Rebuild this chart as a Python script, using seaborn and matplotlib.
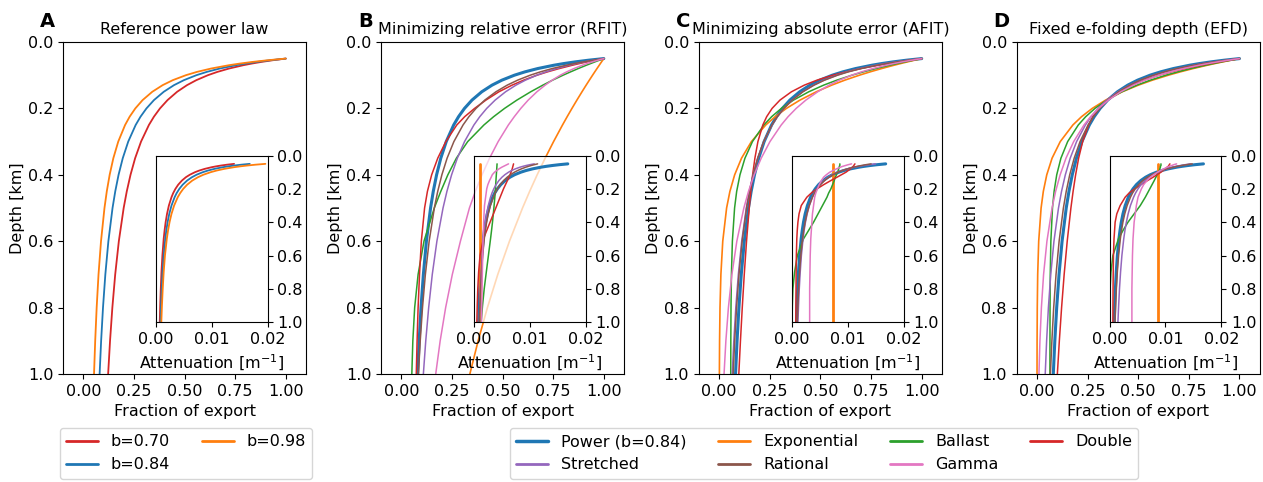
import matplotlib
matplotlib.use("Agg")
from matplotlib import pyplot as plt
from matplotlib.lines import Line2D
import seaborn as sns

# depth grid shared by every curve [km]
depth = [0.05, 0.055, 0.06, 0.065, 0.07, 0.08, 0.09, 0.1, 0.115, 0.13, 0.15, 0.175, 0.2,
         0.225, 0.25, 0.3, 0.35, 0.4, 0.45, 0.5, 0.6, 0.7, 0.8, 0.9, 1.0]

# panel A: reference power laws (fraction of export, attenuation in m^-1)
frac_b070 = [1, 0.9355, 0.8802, 0.8322, 0.7902, 0.7196, 0.6627, 0.6156, 0.5582, 0.5123, 0.4634, 0.4161, 0.3789,
             0.3489, 0.3241, 0.2853, 0.2561, 0.2333, 0.2148, 0.1995, 0.1756, 0.1577, 0.1436, 0.1322, 0.1228]
frac_b084 = [1, 0.9231, 0.8580, 0.8022, 0.7538, 0.6738, 0.6104, 0.5587, 0.4968, 0.4481, 0.3974, 0.3491, 0.3121,
             0.2827, 0.2587, 0.2220, 0.1950, 0.1743, 0.1579, 0.1445, 0.1240, 0.1090, 0.0974, 0.0882, 0.0807]
frac_b098 = [1, 0.9108, 0.8364, 0.7733, 0.7191, 0.6309, 0.5621, 0.5070, 0.4421, 0.3920, 0.3407, 0.2930, 0.2571,
             0.2290, 0.2065, 0.1727, 0.1485, 0.1303, 0.1161, 0.1047, 0.0876, 0.0753, 0.0661, 0.0589, 0.0531]
att_b070 = [0.01400, 0.01273, 0.01167, 0.01077, 0.01000, 0.00875, 0.00778, 0.00700, 0.00609, 0.00538, 0.00467,
            0.00400, 0.00350, 0.00311, 0.00280, 0.00233, 0.00200, 0.00175, 0.00156, 0.00140, 0.00117, 0.00100,
            0.00088, 0.00078, 0.00070]
att_b084 = [0.01680, 0.01527, 0.01400, 0.01292, 0.01200, 0.01050, 0.00933, 0.00840, 0.00730, 0.00646, 0.00560,
            0.00480, 0.00420, 0.00373, 0.00336, 0.00280, 0.00240, 0.00210, 0.00187, 0.00168, 0.00140, 0.00120,
            0.00105, 0.00093, 0.00084]
att_b098 = [0.01960, 0.01782, 0.01633, 0.01508, 0.01400, 0.01225, 0.01089, 0.00980, 0.00852, 0.00754, 0.00653,
            0.00560, 0.00490, 0.00436, 0.00392, 0.00327, 0.00280, 0.00245, 0.00218, 0.00196, 0.00163, 0.00140,
            0.00123, 0.00109, 0.00098]

# panel B: minimizing relative error
rfit_exp = [1, 0.9943, 0.9887, 0.9830, 0.9775, 0.9664, 0.9554, 0.9446, 0.9286, 0.9128, 0.8923, 0.8672, 0.8428,
            0.8191, 0.7961, 0.7520, 0.7103, 0.6710, 0.6338, 0.5987, 0.5342, 0.4766, 0.4253, 0.3795, 0.3386]
rfit_ballast = [1, 0.978, 0.956, 0.935, 0.914, 0.874, 0.836, 0.799, 0.747, 0.699, 0.639, 0.571, 0.510,
                0.456, 0.408, 0.328, 0.272, 0.230, 0.195, 0.163, 0.112, 0.083, 0.066, 0.057, 0.052]
rfit_double = [1, 0.958, 0.918, 0.880, 0.845, 0.780, 0.722, 0.670, 0.604, 0.547, 0.482, 0.418, 0.362,
               0.313, 0.274, 0.220, 0.180, 0.150, 0.129, 0.115, 0.099, 0.090, 0.083, 0.078, 0.074]
rfit_stretched = [1, 0.9493, 0.9046, 0.8645, 0.8285, 0.7664, 0.7139, 0.6693, 0.6129, 0.5663, 0.5149, 0.4635, 0.4219,
                  0.3876, 0.3586, 0.3123, 0.2767, 0.2484, 0.2253, 0.2061, 0.1758, 0.1530, 0.1352, 0.1208, 0.1090]
rfit_rational = [1, 0.9461, 0.8977, 0.8540, 0.8143, 0.7452, 0.6868, 0.6369, 0.5744, 0.5230, 0.4673, 0.4124, 0.3690,
                 0.3339, 0.3049, 0.2597, 0.2262, 0.2004, 0.1799, 0.1631, 0.1376, 0.1189, 0.1047, 0.0935, 0.0845]
rfit_gamma = [1, 0.9702, 0.9427, 0.9174, 0.8941, 0.8526, 0.8167, 0.7855, 0.7453, 0.7103, 0.6697, 0.6267, 0.5902,
              0.5580, 0.5287, 0.4784, 0.4359, 0.3987, 0.3658, 0.3364, 0.292, 0.252, 0.219, 0.192, 0.170]
rfit_att_exp = 0.00114
rfit_att_ballast = [0.00415, 0.00414, 0.00413, 0.00412, 0.00411, 0.00409, 0.00407, 0.00405, 0.00402, 0.00399,
                    0.00395, 0.0039, 0.00385, 0.0038, 0.00375, 0.00362, 0.00348, 0.00333, 0.00316, 0.00298,
                    0.00260, 0.00222, 0.00185, 0.00155, 0.0013]
rfit_att_double = [0.0071, 0.00706, 0.00702, 0.00698, 0.00694, 0.00686, 0.00676, 0.00665, 0.00647, 0.00628,
                   0.0060, 0.00565, 0.0053, 0.0050, 0.0047, 0.0041, 0.0035, 0.0029, 0.0023, 0.0017, 0.0011,
                   0.00085, 0.0007, 0.0006, 0.00053]
rfit_att_stretched = [0.01080, 0.01001, 0.00933, 0.00876, 0.00825, 0.00742, 0.00675, 0.00620, 0.00555, 0.00503,
                      0.00448, 0.00396, 0.00356, 0.00324, 0.00298, 0.00258, 0.00228, 0.00205, 0.00186, 0.00171,
                      0.00148, 0.00131, 0.00118, 0.00107, 0.00098]
rfit_att_rational = [0.01140, 0.01079, 0.01023, 0.00974, 0.00928, 0.00850, 0.00783, 0.00726, 0.00655, 0.00596,
                     0.00533, 0.00470, 0.00421, 0.00381, 0.00348, 0.00296, 0.00258, 0.00228, 0.00205, 0.00186,
                     0.00157, 0.00136, 0.00119, 0.00107, 0.00096]
rfit_att_gamma = [0.0062, 0.0059, 0.0056, 0.0053, 0.0050, 0.0045, 0.0041, 0.0037, 0.0033, 0.0031, 0.0028, 0.0025,
                  0.0023, 0.0022, 0.0021, 0.0019, 0.00182, 0.00175, 0.0017, 0.00165, 0.00158, 0.00152, 0.00147,
                  0.00141, 0.00136]

# panel C: minimizing absolute error
afit_exp = [1, 0.9639, 0.9291, 0.8956, 0.8633, 0.8021, 0.7453, 0.6925, 0.6202, 0.5554, 0.4795, 0.3990, 0.3320,
            0.2763, 0.2299, 0.1592, 0.1103, 0.0764, 0.0529, 0.0366, 0.0176, 0.0084, 0.0040, 0.0019, 0.0009]
afit_ballast = [1, 0.9579, 0.9176, 0.8792, 0.8426, 0.7743, 0.7123, 0.6558, 0.5808, 0.5159, 0.4423, 0.3671, 0.3070,
                0.2590, 0.2205, 0.1642, 0.1272, 0.1026, 0.0863, 0.0760, 0.0651, 0.0604, 0.0583, 0.0574, 0.0570]
afit_double = [1, 0.9407, 0.8854, 0.8337, 0.7858, 0.6999, 0.6258, 0.5619, 0.4828, 0.4203, 0.3567, 0.3002, 0.2613,
               0.2344, 0.2155, 0.1912, 0.1763, 0.1651, 0.1560, 0.1483, 0.1350, 0.1238, 0.1139, 0.1050, 0.0969]
afit_stretched = [1, 0.9306, 0.8708, 0.8186, 0.7725, 0.6952, 0.6325, 0.5804, 0.5170, 0.4663, 0.4123, 0.3606, 0.3202,
                  0.2878, 0.2613, 0.2204, 0.1902, 0.1671, 0.1487, 0.1338, 0.1111, 0.0946, 0.0820, 0.0722, 0.0643]
afit_rational = [1, 0.9337, 0.8757, 0.8244, 0.7788, 0.7013, 0.6378, 0.5848, 0.5200, 0.4682, 0.4132, 0.3604, 0.3195,
                 0.2869, 0.2604, 0.2198, 0.1901, 0.1675, 0.1497, 0.1353, 0.1135, 0.0978, 0.0858, 0.0765, 0.0690]
afit_gamma = [1, 0.9493, 0.9037, 0.8624, 0.8249, 0.7588, 0.7026, 0.6544, 0.5936, 0.5429, 0.4864, 0.4281, 0.3802,
              0.3402, 0.3063, 0.2508, 0.2074, 0.1727, 0.1447, 0.1218, 0.0871, 0.0628, 0.0455, 0.0330, 0.0240]
afit_att_exp = 0.00735
afit_att_ballast = [0.0086, 0.0086, 0.0086, 0.0085, 0.0085, 0.0084, 0.0083, 0.0082, 0.0080, 0.0078, 0.0076, 0.0073,
                    0.0070, 0.0066, 0.0063, 0.0055, 0.0047, 0.0039, 0.0030, 0.0021, 0.0010, 0.0005, 0.0002, 0.0001,
                    0.00006]
afit_att_double = [0.0113, 0.0112, 0.0111, 0.0110, 0.0108, 0.0105, 0.0101, 0.0097, 0.0089, 0.0081, 0.0070, 0.0057,
                   0.0045, 0.0035, 0.0027, 0.0017, 0.0013, 0.0011, 0.00098, 0.0009, 0.00082, 0.00078, 0.00076,
                   0.00074, 0.00072]
afit_att_stretched = [0.01500, 0.01381, 0.01280, 0.01194, 0.01119, 0.00996, 0.00899, 0.00820, 0.00726, 0.00653,
                      0.00576, 0.00504, 0.00449, 0.00405, 0.00369, 0.00315, 0.00275, 0.00245, 0.00221, 0.00202,
                      0.00172, 0.00151, 0.00134, 0.00121, 0.00110]
afit_att_rational = [0.01420, 0.01326, 0.01244, 0.01171, 0.01106, 0.00996, 0.00906, 0.00830, 0.00738, 0.00665,
                     0.00587, 0.00512, 0.00454, 0.00407, 0.00370, 0.00312, 0.00270, 0.00238, 0.00213, 0.00192,
                     0.00161, 0.00139, 0.00122, 0.00109, 0.00098]
afit_att_gamma = [0.0107, 0.0101, 0.0096, 0.0091, 0.0087, 0.0080, 0.0074, 0.0068, 0.0062, 0.0057, 0.0053, 0.0049,
                  0.0046, 0.0043, 0.0041, 0.0039, 0.0037, 0.0036, 0.0035, 0.0034, 0.0033, 0.00325, 0.0032, 0.0032,
                  0.0032]

# panel D: fixed e-folding depth
efd_exp = [1, 0.9577, 0.9171, 0.8783, 0.8411, 0.7714, 0.7075, 0.6489, 0.5699, 0.5006, 0.4211, 0.3392, 0.2732,
           0.2201, 0.1773, 0.1150, 0.0746, 0.0484, 0.0314, 0.0204, 0.0086, 0.0036, 0.0015, 0.0006, 0.0003]
efd_ballast = [1, 0.9550, 0.9121, 0.8713, 0.8325, 0.7605, 0.6954, 0.6368, 0.5597, 0.4935, 0.4193, 0.3450, 0.2867,
               0.2407, 0.2041, 0.1516, 0.1183, 0.0976, 0.0846, 0.0766, 0.0686, 0.0657, 0.0646, 0.0642, 0.0640]
efd_double = [1, 0.9477, 0.8985, 0.8523, 0.8091, 0.7310, 0.6628, 0.6033, 0.5283, 0.4675, 0.4040, 0.3460, 0.3050,
              0.2760, 0.2550, 0.2257, 0.2057, 0.1909, 0.1784, 0.1676, 0.1494, 0.1343, 0.1216, 0.1105, 0.1007]
efd_stretched = [1, 0.9323, 0.8732, 0.8212, 0.7749, 0.6963, 0.6317, 0.5776, 0.5111, 0.4576, 0.4004, 0.3449, 0.3018,
                 0.2673, 0.2391, 0.1957, 0.1641, 0.1401, 0.1213, 0.1063, 0.0839, 0.0681, 0.0565, 0.0477, 0.0408]
efd_rational = [1, 0.9311, 0.8711, 0.8183, 0.7716, 0.6925, 0.6281, 0.5747, 0.5097, 0.4579, 0.4032, 0.3509, 0.3106,
                0.2786, 0.2525, 0.2128, 0.1838, 0.1618, 0.1445, 0.1305, 0.1094, 0.0942, 0.0826, 0.0737, 0.0664]
efd_gamma = [1, 0.9429, 0.8911, 0.8438, 0.8007, 0.7245, 0.6595, 0.6036, 0.5334, 0.4759, 0.4138, 0.3526, 0.3042,
             0.2648, 0.2322, 0.1813, 0.1433, 0.1145, 0.0921, 0.0745, 0.0492, 0.0327, 0.0219, 0.0147, 0.0098]
efd_att_exp = 0.00865
efd_att_ballast = [0.0092, 0.0092, 0.0092, 0.0091, 0.0091, 0.0090, 0.0089, 0.0087, 0.0085, 0.0083, 0.0080, 0.0076,
                   0.0072, 0.0068, 0.0064, 0.0055, 0.0044, 0.0033, 0.0024, 0.0016, 0.0006, 0.00025, 0.0001,
                   0.00004, 0.00002]
efd_att_double = [0.0108, 0.0107, 0.0106, 0.0105, 0.0103, 0.0100, 0.0096, 0.0092, 0.0085, 0.0078, 0.0068, 0.0056,
                  0.0045, 0.0035, 0.0028, 0.0019, 0.0013, 0.0010, 0.0009, 0.0008, 0.0007, 0.00066, 0.00063,
                  0.00061, 0.0006]
efd_att_stretched = [0.01455, 0.01354, 0.01267, 0.01193, 0.01127, 0.01019, 0.00932, 0.00860, 0.00774, 0.00705,
                     0.00633, 0.00563, 0.00509, 0.00465, 0.00430, 0.00374, 0.00333, 0.00301, 0.00275, 0.00254,
                     0.00221, 0.00197, 0.00178, 0.00163, 0.00150]
efd_att_rational = [0.01480, 0.01378, 0.01289, 0.01211, 0.01142, 0.01025, 0.00930, 0.00851, 0.00754, 0.00678,
                    0.00597, 0.00519, 0.00460, 0.00412, 0.00374, 0.00315, 0.00272, 0.00239, 0.00214, 0.00193,
                    0.00162, 0.00139, 0.00122, 0.00109, 0.00098]
efd_att_gamma = [0.0120, 0.0115, 0.0111, 0.0107, 0.0103, 0.0097, 0.0091, 0.0086, 0.0079, 0.0073, 0.0067, 0.0061,
                 0.0057, 0.0054, 0.0051, 0.0048, 0.0046, 0.0044, 0.0043, 0.0042, 0.0041, 0.00405, 0.0040, 0.0040,
                 0.0040]

titles = ["Reference power law", "Minimizing relative error (RFIT)",
          "Minimizing absolute error (AFIT)", "Fixed e-folding depth (EFD)"]
letters = ["A", "B", "C", "D"]

colors = {"Power (b=0.84)": "#1f77b4", "Exponential": "#ff7f0e", "Ballast": "#2ca02c",
          "Double": "#d62728", "Stretched": "#9467bd", "Rational": "#8c564b", "Gamma": "#e377c2",
          "b=0.70": "#d62728", "b=0.84": "#1f77b4", "b=0.98": "#ff7f0e"}

sns.set_style("ticks", {"axes.edgecolor": "black", "text.color": "black",
                        "xtick.color": "black", "ytick.color": "black",
                        "axes.labelcolor": "black"})
plt.rcParams["font.family"] = "DejaVu Sans"
plt.rcParams["font.size"] = 11.5

fig = plt.figure(figsize=(12.63, 4.82), dpi=100)
lefts = [0.0499, 0.3017, 0.5534, 0.805]
axes = [fig.add_axes([l, 0.2241, 0.1924, 0.6888]) for l in lefts]


def line(ax, x, name, lw):
    sns.lineplot(x=x, y=depth, orient="y", sort=False, estimator=None,
                 color=colors[name], lw=lw, ax=ax, legend=False)


def setup(ax, i):
    ax.set_xlim(-0.1, 1.1)
    ax.set_ylim(1.0, 0.0)
    ax.set_xticks([0, 0.25, 0.5, 0.75, 1.0])
    ax.set_yticks([0, 0.2, 0.4, 0.6, 0.8, 1.0])
    ax.set_title(titles[i], fontsize=11.5)
    ax.text(-0.095, 1.045, letters[i], transform=ax.transAxes, fontsize=14,
            fontweight="bold", ha="left", va="baseline")
    ins = ax.inset_axes([0.382, 0.156, 0.46, 0.502])
    ins.set_facecolor((1, 1, 1, 0.7))
    ins.set_xlim(0, 0.02)
    ins.set_ylim(1.0, 0.0)
    ins.set_xticks([0, 0.01, 0.02])
    ins.set_yticks([0, 0.2, 0.4, 0.6, 0.8, 1.0])
    ins.yaxis.tick_right()
    return ins


def finish(ax, ins):
    ax.set_xlabel("Fraction of export")
    ax.set_ylabel("Depth [km]", labelpad=2)
    ins.set_xlabel("Attenuation [m$^{-1}$]")
    ins.set_ylabel("")


# panel A
ins = setup(axes[0], 0)
for name, f, a in [("b=0.70", frac_b070, att_b070), ("b=0.84", frac_b084, att_b084),
                   ("b=0.98", frac_b098, att_b098)]:
    line(axes[0], f, name, 1.3)
    line(ins, a, name, 1.3)
finish(axes[0], ins)

# panels B-D
fits = [
    (rfit_exp, rfit_att_exp, [("Ballast", rfit_ballast, rfit_att_ballast), ("Double", rfit_double, rfit_att_double),
                              ("Stretched", rfit_stretched, rfit_att_stretched),
                              ("Rational", rfit_rational, rfit_att_rational), ("Gamma", rfit_gamma, rfit_att_gamma)]),
    (afit_exp, afit_att_exp, [("Ballast", afit_ballast, afit_att_ballast), ("Double", afit_double, afit_att_double),
                              ("Stretched", afit_stretched, afit_att_stretched),
                              ("Rational", afit_rational, afit_att_rational), ("Gamma", afit_gamma, afit_att_gamma)]),
    (efd_exp, efd_att_exp, [("Ballast", efd_ballast, efd_att_ballast), ("Double", efd_double, efd_att_double),
                            ("Stretched", efd_stretched, efd_att_stretched),
                            ("Rational", efd_rational, efd_att_rational), ("Gamma", efd_gamma, efd_att_gamma)]),
]
for k, (fexp, aexp, others) in enumerate(fits):
    ax = axes[k + 1]
    ins = setup(ax, k + 1)
    line(ax, frac_b084, "Power (b=0.84)", 2.2)
    line(ins, att_b084, "Power (b=0.84)", 2.2)
    line(ax, fexp, "Exponential", 1.2)
    sns.lineplot(x=[aexp, aexp], y=[depth[0], depth[-1]], orient="y", sort=False,
                 estimator=None, color=colors["Exponential"], lw=2.0, ax=ins, legend=False)
    for name, f, a in others:
        line(ax, f, name, 1.1)
        line(ins, a, name, 1.1)
    finish(ax, ins)

h_a = [Line2D([], [], color=colors[n], lw=2) for n in ["b=0.70", "b=0.84", "b=0.98"]]
fig.legend(h_a, ["b=0.70", "b=0.84", "b=0.98"], loc="upper center",
           bbox_to_anchor=(0.1473, 0.112), ncol=2, borderaxespad=0, fontsize=11.5)

order = ["Power (b=0.84)", "Stretched", "Exponential", "Rational", "Ballast", "Gamma", "Double"]
h_b = [Line2D([], [], color=colors[n], lw=2.5 if n.startswith("Power") else 2) for n in order]
fig.legend(h_b, order, loc="upper center", bbox_to_anchor=(0.6525, 0.112), ncol=4,
           borderaxespad=0, fontsize=11.5)

fig.savefig("out.png", dpi=100)
